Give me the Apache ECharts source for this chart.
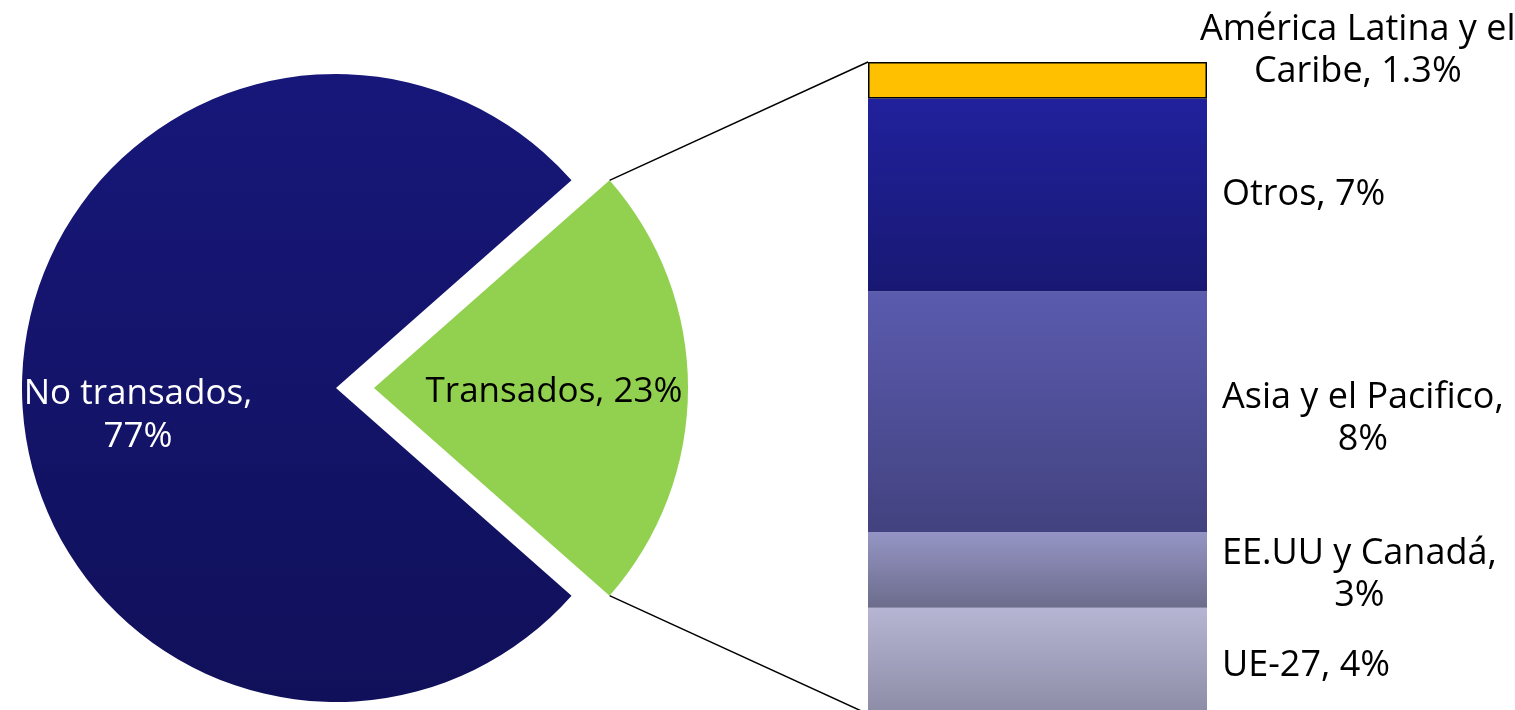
<!DOCTYPE html>
<html>
<head>
	<meta charset="UTF-8">
	<title>Transados / No transados</title>
	<script src="https://cdn.jsdelivr.net/npm/echarts@6/dist/echarts.min.js"></script>
	<style>
		html, body { margin: 0; padding: 0; background: #fff; }
		#container { width: 1515px; height: 710px; }
	</style>
</head>
<body>
	<div id="container"></div>
	<script>
		// datos
		var pieNames = ['Transados', 'No transados'];
		var pieValues = [23, 77];
		var pieLabels = ['Transados, 23%', 'No transados,\n77%'];

		var barNames = ['UE-27', 'EE.UU y Canadá', 'Asia y el Pacifico', 'Otros', 'América Latina y el Caribe'];
		var barValues = [3.8, 2.7, 8.6, 6.9, 1.3];
		var barLabels = ['UE-27, 4%', 'EE.UU y Canadá,\n3%', 'Asia y el Pacifico,\n8%', 'Otros, 7%', 'América Latina y el\nCaribe, 1.3%'];

		var font = 'Open Sans';
		var pieCenter = [336, 388];
		var pieRadius = 314;
		var explode = 38;
		var barLeft = 868, barTop = 62, barW = 339, barH = 652;

		function grad(top, bottom) {
			return new echarts.graphic.LinearGradient(0, 0, 0, 1, [
				{offset: 0, color: top}, {offset: 1, color: bottom}
			]);
		}

		var barColors = [
			grad('#b6b6d4', '#8c8ca6'),
			grad('#9595c5', '#6c6c8c'),
			grad('#5b5baf', '#424280'),
			grad('#21219d', '#181873'),
			'#ffc000'
		];
		// pequeño ajuste vertical de cada etiqueta
		var labelShift = [5, 5, 7, 0, 2];

		var total = 0;
		barValues.forEach(function (v) { total += v; });
		var pieSum = pieValues[0] + pieValues[1];
		var half = pieValues[0] / pieSum * 180;

		function richText(s) {
			return s.split('\n').map(function (l) { return '{c|' + l + '}'; }).join('\n');
		}

		var barSeries = barNames.map(function (n, i) {
			var last = i === barNames.length - 1;
			return {
				name: n,
				type: 'bar',
				stack: 'total',
				barWidth: '100%',
				data: [barValues[i]],
				itemStyle: last ? {color: barColors[i], borderColor: '#000', borderWidth: 1.5} : {color: barColors[i]},
				label: {
					show: true,
					position: last ? [332, -13] : [354, '50%'],
					offset: [0, labelShift[i]],
					align: 'left',
					verticalAlign: 'middle',
					formatter: function () { return richText(barLabels[i]); },
					rich: {
						c: {align: 'center', fontFamily: font, fontSize: 36, lineHeight: 42, color: '#000'}
					}
				},
				emphasis: {disabled: true}
			};
		});

		var pieData = pieNames.map(function (n, i) {
			var d = {name: n, value: pieValues[i]};
			if (i === 0) {
				d.selected = true;
				d.itemStyle = {color: '#92d050'};
				d.select = {itemStyle: {color: '#92d050', borderWidth: 0}};
				d.label = {color: '#000'};
			} else {
				d.itemStyle = {color: grad('#17177a', '#10105a')};
				d.label = {color: '#fff'};
			}
			return d;
		});

		var dom = document.getElementById('container');
		var myChart = echarts.init(dom);
		var option = {
			animation: false,
			grid: {left: barLeft, top: barTop, width: barW, height: barH, outerBoundsMode: 'none'},
			xAxis: {type: 'category', data: ['Transados'], show: false},
			yAxis: {type: 'value', min: 0, max: total, show: false},
			series: [{
				type: 'pie',
				center: pieCenter,
				radius: pieRadius,
				startAngle: half,
				clockwise: true,
				selectedMode: 'single',
				selectedOffset: explode,
				avoidLabelOverlap: false,
				data: pieData,
				itemStyle: {borderWidth: 0},
				label: {
					show: true,
					position: 'inside',
					fontFamily: font,
					fontSize: 35,
					lineHeight: 43,
					align: 'center',
					formatter: function (p) { return pieLabels[p.dataIndex]; }
				},
				labelLayout: function (p) {
					return p.dataIndex === 0 ? {dx: 20, dy: 4} : {dx: -19, dy: 14};
				},
				emphasis: {disabled: true}
			}].concat(barSeries)
		};
		myChart.setOption(option, true);

		// lineas de union entre el sector y la barra
		var a = half * Math.PI / 180;
		var sx = pieCenter[0] + explode + pieRadius * Math.cos(a);
		var sy1 = pieCenter[1] - pieRadius * Math.sin(a);
		var sy2 = pieCenter[1] + pieRadius * Math.sin(a);
		var yTop = myChart.convertToPixel({gridIndex: 0}, [0, total])[1];
		var yBot = myChart.convertToPixel({gridIndex: 0}, [0, 0])[1];
		myChart.setOption({
			graphic: [
				{type: 'line', shape: {x1: sx, y1: sy1, x2: barLeft, y2: yTop}, style: {stroke: '#000', lineWidth: 1.5}},
				{type: 'line', shape: {x1: sx, y1: sy2, x2: barLeft, y2: yBot}, style: {stroke: '#000', lineWidth: 1.5}}
			]
		});
	</script>
</body>
</html>
